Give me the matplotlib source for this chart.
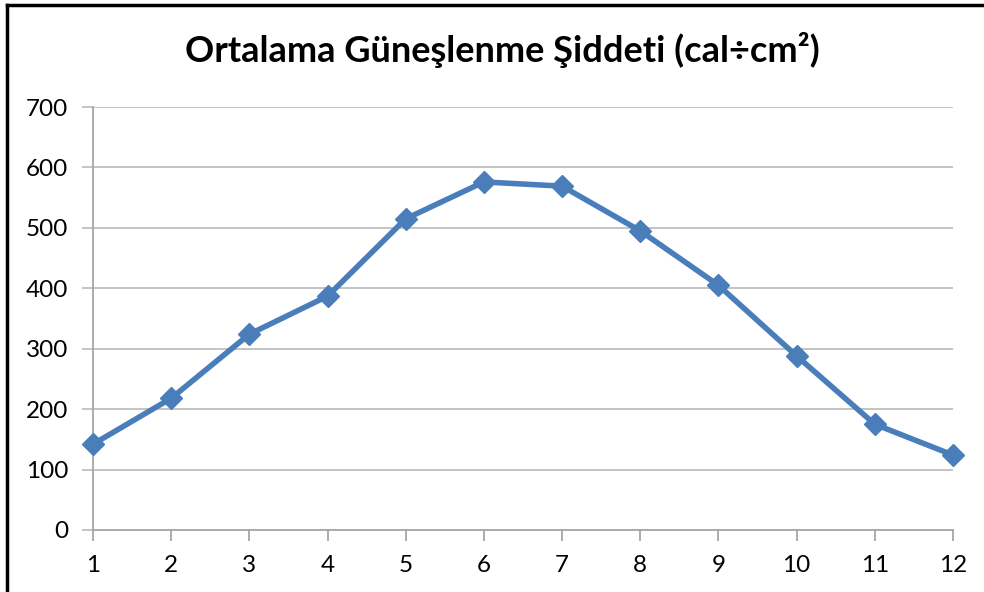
import matplotlib
matplotlib.use("Agg")
import matplotlib.pyplot as plt
from matplotlib.lines import Line2D

months = [1, 2, 3, 4, 5, 6, 7, 8, 9, 10, 11, 12]
values = [142, 218, 324, 387, 515, 576, 569, 495, 405, 288, 175, 124]
yticks = [0, 100, 200, 300, 400, 500, 600, 700]
title = "Ortalama Güneşlenme Şiddeti (cal÷cm²)"

plt.rcParams['font.family'] = ['Lato', 'DejaVu Sans']

W, H = 984, 592
fig = plt.figure(figsize=(W / 100, H / 100), dpi=100)
ax = fig.add_axes([93 / W, 1 - 530 / H, (953 - 93) / W, (530 - 107) / H])

ax.plot(months, values, color='#4a7ebb', lw=4, marker='D', ms=11,
        markerfacecolor='#4a7ebb', markeredgecolor='#4a7ebb', zorder=3,
        clip_on=False)

ax.set_xlim(1, 12)
ax.set_ylim(0, 700)
ax.set_xticks(months)
ax.set_yticks(yticks)
ax.yaxis.grid(True, color='#bfbfbf', lw=1.3)
ax.set_axisbelow(True)
for s in ['top', 'right']:
    ax.spines[s].set_visible(False)
for s in ['left', 'bottom']:
    ax.spines[s].set_color('#a6a6a6')
    ax.spines[s].set_linewidth(1.3)
ax.tick_params(axis='y', length=8, width=1.3, color='#bfbfbf', labelsize=17.5, pad=10)
ax.tick_params(axis='x', length=8, width=1.3, color='#a6a6a6', labelsize=17.5, pad=10)

fig.text(0.5 + 10 / W, 1 - 50 / H, title, ha='center', va='center',
         fontsize=26, fontweight='bold', color='black')

fig.add_artist(Line2D([7 / W, 1], [1 - 5 / H, 1 - 5 / H], color='black', lw=2.5,
                      transform=fig.transFigure))
fig.add_artist(Line2D([7 / W, 7 / W], [0, 1 - 5 / H], color='black', lw=2.5,
                      transform=fig.transFigure))

fig.savefig("out.png", dpi=100)
